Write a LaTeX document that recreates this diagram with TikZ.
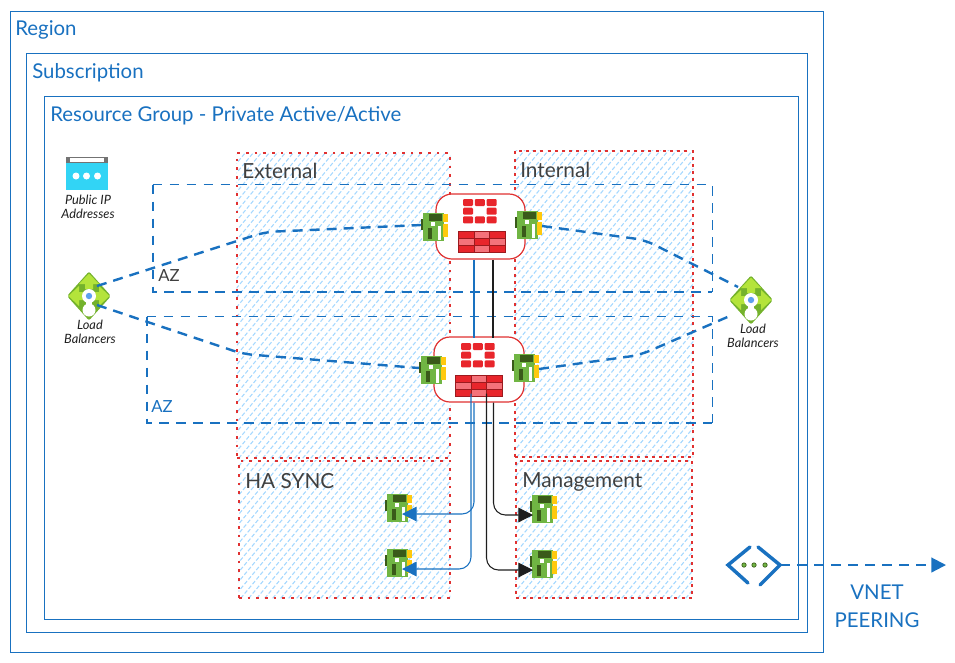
\documentclass[tikz,border=0pt]{standalone}
\usepackage{fontspec}
\setmainfont{Lato}
\usetikzlibrary{arrows.meta, positioning, calc}
\definecolor{azblue}{HTML}{1971C0}
\definecolor{hatchblue}{HTML}{A5D8FF}
\definecolor{zonered}{HTML}{E03131}
\definecolor{inkdark}{HTML}{1E1E1E}
\definecolor{nicgreen}{HTML}{70B543}
\definecolor{nicdark}{HTML}{3A5A1A}
\definecolor{nicgold}{HTML}{FFC90E}
\definecolor{fwred}{HTML}{E8252B}
\definecolor{fwpink}{HTML}{F4727A}
\definecolor{fwdark}{HTML}{9C1A1E}
\definecolor{lbdark}{HTML}{74B22C}
\definecolor{lblight}{HTML}{B4E43B}
\definecolor{lbdot}{HTML}{5EA0EF}
\definecolor{ipcyan}{HTML}{32D4F5}

\tikzset{
  sized/.style 2 args={minimum width=#1*0.75pt, minimum height=#2*0.75pt},
  framebox/.style={draw=azblue, line width=0.7pt, rectangle, inner sep=0pt},
  boxlabel/.style={text=azblue, font=\fontsize{15.3}{17}\selectfont, anchor=west, inner sep=0pt},
  zonelabel/.style={text=inkdark!85, font=\fontsize{15.6}{17}\selectfont, anchor=west, inner sep=0pt},
  zonethin/.style={draw=zonered, line width=0.8pt, dash pattern=on 2pt off 4.5pt, rectangle, inner sep=0pt},
  zonedots/.style={draw=zonered, line width=1.6pt, dash pattern=on 2.2pt off 3.2pt, rectangle, inner sep=0pt},
  azthin/.style={azblue, line width=0.7pt, dash pattern=on 7pt off 5.75pt},
  azedge/.style={azblue, line width=1.8pt, dash pattern=on 7pt off 5.75pt},
  fwbox/.style={draw=zonered, fill=white, line width=0.9pt, rounded corners=12pt, rectangle, inner sep=0pt},
  hatchline/.style={hatchblue, line width=0.8pt, dash pattern=on 3pt off 1.6pt},
  dashlink/.style={azblue, line width=1.8pt, dash pattern=on 7.5pt off 5.25pt, rounded corners=8pt},
  bluewire/.style={azblue, line width=0.8pt, rounded corners=9pt},
  blackwire/.style={inkdark, line width=0.8pt, rounded corners=9pt},
  handtext/.style={text=inkdark, font=\fontsize{9.6}{10.5}\selectfont\itshape, align=center, inner sep=0pt},
  % network card, origin at its top left corner
  nicicon/.pic={
    \fill[nicdark] (0,5.5) rectangle (3,17);
    \fill[nicgreen] (2,0) rectangle (23,28);
    \fill[nicgold] (22,1) rectangle (27,9);
    \fill[nicgold] (22,11) rectangle (27,24);
    \fill[nicdark] (8,1) rectangle (21,8);
    \fill[white] (10,9) rectangle (14,13);
    \fill[nicdark] (7,15) rectangle (11,26);
    \fill[white] (17,13) rectangle (20,27);
    \coordinate (-west) at (0,12);
    \coordinate (-east) at (27,15);
    \coordinate (-hub) at (17,20);
    \coordinate (-tap) at (3,20);
  },
  % firewall logo and wall, origin at the logo's top left corner
  fwlogo/.pic={
    \foreach \col/\row in {0/0,1/0,2/0,0/1,2/1,0/2,1/2,2/2}
      \fill[fwred, rounded corners=0.8pt] (\col*11.8,\row*8.7) rectangle ++(10,7);
  },
  fwwall/.pic={
    \fill[fwdark] (0,0) rectangle (48,22);
    \foreach \col in {0,1,2} \foreach \row in {0,1,2} {
      \pgfmathparse{int(mod(\col+\row,2))}
      \ifnum\pgfmathresult=0 \def\cellcol{fwred}\else\def\cellcol{fwpink}\fi
      \fill[\cellcol] (1+\col*15.5,1+\row*6.8) rectangle ++(14.5,6);
    }
  },
  lbicon/.pic={
    \fill[lbdark, rounded corners=1.5pt] (-22,0) -- (0,-24.5) -- (22,0) -- (0,24.5) -- cycle;
    \fill[lblight] (0,-22.5) -- (10,-12) -- (4,-12) -- (4,-7) -- (-4,-7) -- (-4,-12) -- (-10,-12) -- cycle;
    \fill[lblight] (-20.5,0) -- (-10,-10) -- (-10,-4) -- (-5,-4) -- (-5,4) -- (-10,4) -- (-10,10) -- cycle;
    \fill[lblight] (20.5,0) -- (10,-10) -- (10,-4) -- (5,-4) -- (5,4) -- (10,4) -- (10,10) -- cycle;
    \fill[white] (0,0) circle (7);
    \fill[white] (-3,3) rectangle (3,12);
    \fill[white] (0,14) circle (6.5);
    \fill[lbdot] (0,0) circle (3.2);
    \coordinate (-ne) at (8,-10);
    \coordinate (-nw) at (-13,-13);
    \coordinate (-se) at (8,9);
    \coordinate (-sw) at (-19,15);
  },
  ipicon/.pic={
    \fill[ipcyan] (0,5) rectangle (42,33);
    \fill[black!55] (0,0) rectangle (42,6);
    \fill[white] (4,1.3) rectangle (38,5);
    \foreach \dotx in {10,20.5,31.5} \fill[white] (\dotx,19) circle (3.5);
  },
  vneticon/.pic={
    \draw[azblue, line width=2.6pt, line cap=round] (-5,-18) -- (-27,0) -- (-7,18);
    \draw[azblue, line width=2.6pt, line cap=round] (3,-18) -- (25,0) -- (5,20);
    \foreach \dotx in {-11,-1,10}
      \draw[nicdark, fill=nicgreen, line width=0.5pt] (\dotx,0) circle (2.2);
    \coordinate (-east) at (25,0);
  }
}

% hatched fill of a zone
\newcommand{\hachure}[1]{
  \begin{scope}
    \clip (#1.south west) rectangle (#1.north east);
    \foreach \off in {0,8,...,528}
      \draw[hatchline] ($(#1.south west)+(\off-270,0)$) -- ++(300,-360);
  \end{scope}
}

\begin{document}
\begin{tikzpicture}[x=0.75pt, y=-0.75pt, >={Triangle[length=11pt, width=11pt]}]

\useasboundingbox (0,0) rectangle (955,662);

% Frames
\node[framebox, sized={813}{641}] (region) at (416.5,331.5) {};
\node[framebox, sized={781}{579}] (subscription) at (416.5,342.5) {};
\node[framebox, sized={754}{523}] (resgroup) at (421,357.5) {};
\node[boxlabel] (regionLabel) at (15,30) {Region};
\node[boxlabel] (subLabel) at (32,73) {Subscription};
\node[boxlabel] (rgLabel) at (50,116) {Resource Group - Private Active/Active};

% --- Subnets ---
\node[sized={213}{305}] (external) at (343.5,305.5) {};
\node[sized={178}{306}] (internal) at (604,304) {};
\node[sized={211}{137}] (hasync) at (344.5,529.5) {};
\node[sized={176}{137}] (mgmt) at (604,529.5) {};
\hachure{external}
\hachure{internal}
\hachure{hasync}
\hachure{mgmt}
\node[zonethin, sized={213}{305}] at (external) {};
\node[zonedots, sized={178}{306}] at (internal) {};
\node[zonethin, sized={211}{137}] at (hasync) {};
\node[zonedots, sized={176}{137}] at (mgmt) {};

\node[zonelabel] (extLabel) at (242,171) {External};
\node[zonelabel] (intLabel) at (520,170) {Internal};
\node[zonelabel] (haLabel) at (245,481) {HA SYNC};
\node[zonelabel] (mgmtLabel) at (522,482) {Management};

% --- Availability zones ---
\node[sized={559}{107}] (azTop) at (432.5,238.5) {};
\draw[azthin] (azTop.north west) -- (azTop.north east) -- (azTop.south east);
\draw[azedge] (azTop.north west) -- (azTop.south west) -- (azTop.south east);
\node[sized={565}{106}] (azLow) at (429.5,370) {};
\draw[azthin] (azLow.north west) -- (azLow.north east) -- (azLow.south east);
\draw[azedge] (azLow.north west) -- (azLow.south west) -- (azLow.south east);
\node[text=inkdark!85, font=\fontsize{12.5}{14}\selectfont, inner sep=0pt] (azTopLabel) at (169,276) {AZ};
\node[text=azblue, font=\fontsize{12.5}{14}\selectfont, inner sep=0pt] (azLowLabel) at (162,407) {AZ};

% --- Firewalls ---
\node[fwbox, sized={89}{65}] (fwTop) at (480.5,226.5) {};
\node[fwbox, sized={90}{65}] (fwLow) at (479,369.5) {};
\pic at (463,199) {fwlogo};
\pic at (458,231) {fwwall};
\pic at (461,343) {fwlogo};
\pic at (455,375) {fwwall};

% Wires between the firewalls
\draw[azblue, line width=0.8pt] ($(fwTop.south)+(-6.5,0)$) -- ($(fwTop.south)+(-6.5,78)$);
\draw[inkdark, line width=0.8pt] ($(fwTop.south)+(12.5,0)$) -- ($(fwTop.south)+(12.5,78)$);

% --- Network cards ---
\pic (nicTL) at (421,213) {nicicon};
\pic (nicTR) at (515,211) {nicicon};
\pic (nicLL) at (419,356) {nicicon};
\pic (nicLR) at (512,354) {nicicon};
\pic (nicHa) at (385,494) {nicicon};
\pic (nicHb) at (385,549) {nicicon};
\pic (nicMa) at (530,495) {nicicon};
\pic (nicMb) at (530,550) {nicicon};

% Wires down to the cards
\coordinate (tapBlueA) at ($(fwLow.south)+(-5,0)$);
\coordinate (tapBlueB) at ($(fwLow.south)+(-8,-9)$);
\coordinate (tapBlackA) at ($(fwLow.south)+(14.5,0)$);
\coordinate (tapBlackB) at ($(fwLow.south)+(7.5,-9)$);
\draw[bluewire, ->] (tapBlueA) |- (nicHa-hub);
\draw[bluewire, ->] (tapBlueB) |- (nicHb-hub);
\draw[blackwire, ->] (tapBlackA) |- (nicMa-tap);
\draw[blackwire, ->] (tapBlackB) |- (nicMb-tap);

% --- Load balancers ---
\pic (lbLeft) at (89,296) {lbicon};
\pic (lbRight) at (751,300) {lbicon};
\node[handtext] (lbLeftText) at (90,332) {Load\\Balancers};
\node[handtext] (lbRightText) at (753,336) {Load\\Balancers};

\coordinate (bendTL) at (265,232);
\coordinate (bendLL) at (243,354);
\coordinate (bendTR) at (645,240);
\coordinate (bendLR) at (640,355);
\draw[dashlink] (lbLeft-ne) -- (bendTL) -- (nicTL-west);
\draw[dashlink] (lbLeft-se) -- (bendLL) -- (nicLL-west);
\draw[dashlink] (nicTR-east) -- (bendTR) -- (lbRight-nw);
\draw[dashlink] (nicLR-east) -- (bendLR) -- (lbRight-sw);

% --- Public IP ---
\pic at (66,157) {ipicon};
\node[handtext] (ipText) at (88,207) {Public IP\\Addresses};

% --- Peering ---
\pic (vnet) at (755,565) {vneticon};
\coordinate (peerEnd) at (946,565);
\draw[azblue, line width=1.6pt, dash pattern=on 7.5pt off 5.25pt, ->] (vnet-east) -- (peerEnd);
\node[text=azblue, font=\fontsize{15.3}{21}\selectfont, align=center, inner sep=0pt] (peerText) at (877,606.5) {VNET\\PEERING};

\end{tikzpicture}
\end{document}
